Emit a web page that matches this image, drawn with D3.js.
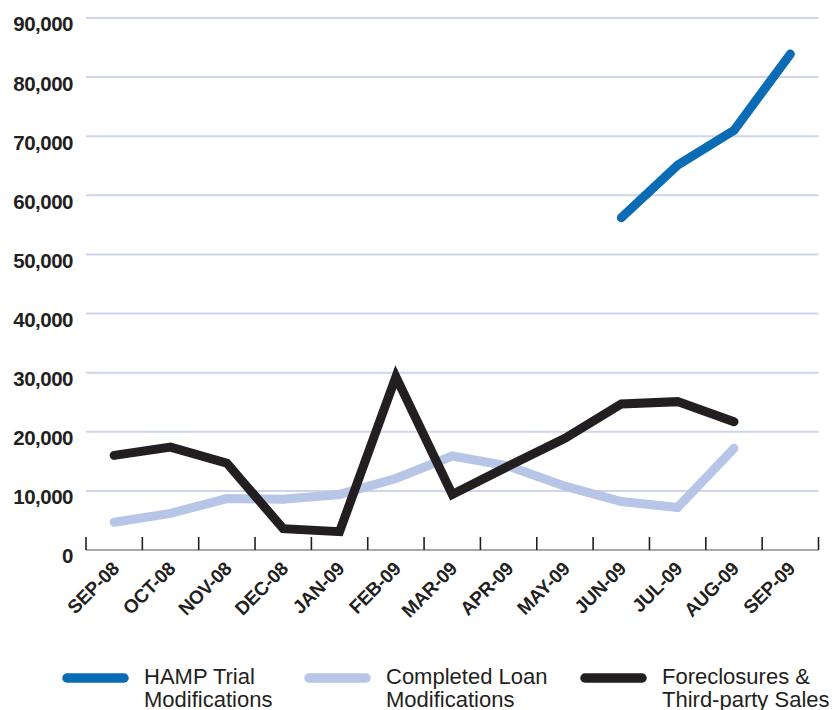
<!DOCTYPE html>
<html>
<head>
<meta charset="utf-8">
<script src="https://cdn.jsdelivr.net/npm/d3@7"></script>
<style>
  html, body { margin: 0; padding: 0; background: #fff; }
  svg { display: block; font-family: "Liberation Sans", Arial, Helvetica, sans-serif; }
</style>
</head>
<body>
<svg id="chart" width="838" height="710"></svg>
<script>
// Monthly categories along the x axis
const months = ["SEP-08", "OCT-08", "NOV-08", "DEC-08", "JAN-09", "FEB-09", "MAR-09",
                "APR-09", "MAY-09", "JUN-09", "JUL-09", "AUG-09", "SEP-09"];

// Series values (null = no data for that month)
const hampTrial = [null, null, null, null, null, null, null, null, null, 56200, 65100, 71000, 83900];
const completedMods = [4700, 6200, 8700, 8600, 9400, 12100, 15900, 14200, 10800, 8200, 7200, 17200, null];
const foreclosures = [16000, 17400, 14700, 3600, 3100, 29300, 9400, 14200, 18900, 24700, 25100, 21700, null];

// Y axis ticks
const yTicks = [0, 10000, 20000, 30000, 40000, 50000, 60000, 70000, 80000, 90000];

const seriesNames = ["HAMP Trial\nModifications", "Completed Loan\nModifications", "Foreclosures &\nThird-party Sales"];
const seriesColors = ["#0a6cb4", "#b7c5e7", "#231f20"];

const svg = d3.select("#chart");
const plotLeft = 86, plotRight = 818.5, plotTop = 18, plotBottom = 550;

const x = d3.scaleBand().domain(months).range([plotLeft, plotRight]).padding(0);
const y = d3.scaleLinear().domain([0, 90000]).range([plotBottom, plotTop]);

// Horizontal gridlines
svg.append("g")
  .selectAll("line")
  .data(yTicks.filter(d => d > 0))
  .join("line")
  .attr("x1", plotLeft).attr("x2", plotRight)
  .attr("y1", d => y(d)).attr("y2", d => y(d))
  .attr("stroke", "#cdd5ee").attr("stroke-width", 2);

// Y axis labels
const yAxis = svg.append("g")
  .attr("transform", `translate(${plotLeft},0)`)
  .call(d3.axisLeft(y).tickValues(yTicks).tickFormat(d3.format(",")).tickSize(0).tickPadding(13));
yAxis.select(".domain").remove();
yAxis.selectAll("text")
  .attr("dy", "0.68em")
  .attr("y", -1)
  .attr("fill", "#231f20")
  .style("font-size", "20.5px")
  .style("font-weight", "bold")
  .style("letter-spacing", "-0.5px")
  .style("font-family", "'Liberation Sans', Arial, sans-serif");

// X axis baseline and tick marks at month boundaries
svg.append("line")
  .attr("x1", plotLeft).attr("x2", plotRight)
  .attr("y1", plotBottom).attr("y2", plotBottom)
  .attr("stroke", "#a7a9ac").attr("stroke-width", 2);

const edges = months.map(m => x(m)).concat([x.range()[1]]);
svg.append("g")
  .selectAll("line")
  .data(edges)
  .join("line")
  .attr("x1", d => d).attr("x2", d => d)
  .attr("y1", plotBottom - 13).attr("y2", plotBottom)
  .attr("stroke", "#231f20").attr("stroke-width", 1.6);

// Rotated month labels
svg.append("g")
  .selectAll("text")
  .data(months)
  .join("text")
  .attr("transform", d => `translate(${x(d) + x.bandwidth() / 2 + 6},${plotBottom + 20}) rotate(-45)`)
  .attr("text-anchor", "end")
  .attr("fill", "#231f20")
  .style("font-size", "19px")
  .style("font-weight", "bold")
  .style("letter-spacing", "-0.3px")
  .text(d => d);

// Data lines
const line = d3.line()
  .defined(d => d.v != null)
  .x(d => x(d.m) + x.bandwidth() / 2)
  .y(d => y(d.v));

const series = [completedMods, foreclosures, hampTrial];
const colorsFor = [seriesColors[1], seriesColors[2], seriesColors[0]];
series.forEach((vals, i) => {
  svg.append("path")
    .datum(months.map((m, j) => ({ m, v: vals[j] })))
    .attr("d", line)
    .attr("fill", "none")
    .attr("stroke", colorsFor[i])
    .attr("stroke-width", 9)
    .attr("stroke-linecap", "round")
    .attr("stroke-linejoin", "miter")
    .attr("stroke-miterlimit", 3);
});

// Legend
const legendX = [67, 309, 585];
const legend = svg.append("g");
seriesNames.forEach((name, i) => {
  const g = legend.append("g").attr("transform", `translate(${legendX[i]},678)`);
  g.append("line")
    .attr("x1", 0).attr("x2", 57)
    .attr("y1", 0).attr("y2", 0)
    .attr("stroke", seriesColors[i])
    .attr("stroke-width", 9.5)
    .attr("stroke-linecap", "round");
  const t = g.append("text")
    .attr("x", 77).attr("y", 6)
    .attr("fill", "#231f20")
    .style("font-size", "22px");
  name.split("\n").forEach((ln, k) => {
    t.append("tspan").attr("x", 77).attr("dy", k === 0 ? 0 : 23).text(ln);
  });
});
</script>
</body>
</html>
